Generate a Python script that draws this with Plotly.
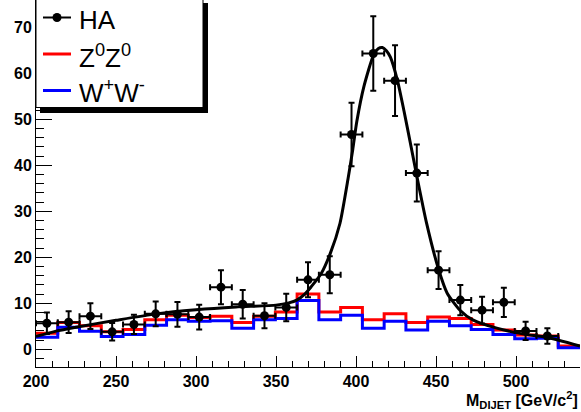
import plotly.graph_objects as go

# ---------------- data ----------------
bin_edges = [200.0, 213.6, 227.2, 240.8, 254.4, 268.0, 281.6, 295.2, 308.8, 322.4,
             336.0, 349.6, 363.2, 376.8, 390.4, 404.0, 417.6, 431.2, 444.8, 458.4,
             472.0, 485.6, 499.2, 512.8, 526.4, 540.0]

zz_values = [3.5, 5.8, 5.1, 3.8, 4.3, 6.4, 7.4, 6.9, 7.2, 5.8, 7.2, 8.1, 12.0,
             8.1, 9.1, 6.4, 7.7, 5.8, 7.0, 6.7, 5.4, 4.2, 3.1, 2.9, 0.7]

ww_values = [2.6, 4.8, 3.9, 2.8, 3.2, 5.2, 6.4, 6.1, 6.2, 4.6, 6.4, 6.7, 10.6,
             6.4, 7.4, 4.6, 6.1, 4.2, 6.1, 5.1, 4.3, 3.2, 2.3, 2.4, 0.35]

ha_x = [206.8, 220.4, 234.0, 247.6, 261.2, 274.8, 288.4, 302.0, 315.6, 329.2,
        342.8, 356.4, 370.0, 383.6, 397.2, 410.8, 424.4, 438.0, 451.6, 465.2,
        478.8, 492.4, 506.0, 519.6]
ha_y = [5.65, 5.9, 7.2, 3.8, 5.4, 7.7, 7.6, 7.0, 13.5, 9.8,
        7.3, 9.1, 15.1, 16.2, 46.7, 64.3, 58.4, 38.3, 17.2, 10.7,
        8.5, 10.2, 4.0, 2.9]
ha_err = [2.35, 2.35, 2.8, 1.9, 2.1, 2.7, 2.7, 2.7, 3.7, 3.1,
          2.7, 3.0, 3.8, 4.0, 6.9, 8.1, 7.7, 6.2, 4.1, 3.3,
          2.9, 3.2, 2.0, 1.7]
ha_xerr = [6.8] * len(ha_x)

# fit curve
fit_x = [200, 212, 225, 250, 275, 300, 325, 350, 358, 363, 368, 372, 378, 384,
         390, 395, 398, 400.5, 405, 411, 414, 416.5, 419, 421.5, 426, 430, 434,
         438, 444, 451.6, 457, 465, 473, 488, 505, 519, 540]
fit_y = [2.8, 3.9, 4.8, 6.3, 7.7, 8.6, 9.2, 9.6, 10.1, 10.7, 12.0, 13.6, 16.3, 20.9,
         27.4, 37.0, 43.5, 49.5, 57.2, 64.0, 65.4, 65.6, 64.9, 63.5, 58.3, 51.8, 44.8,
         37.7, 27.6, 17.4, 12.2, 8.5, 6.4, 4.6, 3.3, 2.6, 0.7]

x_range = [200, 540]
y_range = [-3.85, 75.93]

FONT = "Liberation Sans, Arial, Helvetica, sans-serif"

fig = go.Figure()

# histograms as step lines
fig.add_trace(go.Scatter(x=bin_edges, y=zz_values + [zz_values[-1]], mode="lines",
                         line=dict(color="rgb(255,0,0)", width=3, shape="hv"),
                         showlegend=False, hoverinfo="skip"))
fig.add_trace(go.Scatter(x=bin_edges, y=ww_values + [ww_values[-1]], mode="lines",
                         line=dict(color="rgb(0,0,255)", width=3, shape="hv"),
                         showlegend=False, hoverinfo="skip"))

# data points
fig.add_trace(go.Scatter(x=ha_x, y=ha_y, mode="markers",
                         marker=dict(color="black", size=9, symbol="circle"),
                         error_y=dict(type="data", array=ha_err, color="black",
                                      thickness=2, width=3),
                         error_x=dict(type="data", array=ha_xerr, color="black",
                                      thickness=2, width=3),
                         showlegend=False))

# fit curve
fig.add_trace(go.Scatter(x=fit_x, y=fit_y, mode="lines",
                         line=dict(color="black", width=3, shape="spline", smoothing=0.6),
                         showlegend=False, hoverinfo="skip"))

tickfont = dict(family=FONT, size=16, color="black", weight="bold")

fig.update_layout(
    width=581, height=412,
    margin=dict(l=36, r=1, t=0, b=45),
    paper_bgcolor="white", plot_bgcolor="white",
    xaxis=dict(range=x_range, showline=True, linecolor="black", linewidth=1,
               ticks="inside", ticklen=11, tickwidth=1, tickcolor="black",
               tick0=200, dtick=50, tickfont=tickfont,
               minor=dict(ticks="inside", ticklen=6, dtick=10, tickcolor="black", tickwidth=1),
               showgrid=False, zeroline=False),
    yaxis=dict(range=y_range, showline=True, linecolor="black", linewidth=1,
               ticks="inside", ticklen=16, tickwidth=1, tickcolor="black",
               tick0=0, dtick=10, tickfont=tickfont,
               minor=dict(ticks="inside", ticklen=8, dtick=2, tickcolor="black", tickwidth=1),
               showgrid=False, zeroline=False),
    xaxis2=dict(range=x_range, overlaying="x", side="top", anchor="y",
                showline=False, ticks="inside", ticklen=8, tickcolor="black",
                tick0=200, dtick=50, showticklabels=False,
                minor=dict(ticks="inside", ticklen=4, dtick=10, tickcolor="black"),
                showgrid=False, zeroline=False),
    yaxis2=dict(range=y_range, overlaying="y", side="right", anchor="x",
                showline=True, linecolor="black", linewidth=1,
                ticks="inside", ticklen=26, tickcolor="black",
                tick0=0, dtick=10, showticklabels=False,
                minor=dict(ticks="inside", ticklen=13, dtick=2, tickcolor="black"),
                showgrid=False, zeroline=False),
)

# ---- legend box (drawn by hand, ROOT style with shadow) ----
W, H = 544.0, 367.0
def px(xp):
    return (xp - 36.0) / W
def py(yp):
    return (H - yp) / H

fig.add_shape(type="rect", xref="paper", yref="paper",
              x0=px(40), x1=px(208), y0=py(113), y1=py(3),
              fillcolor="black", line=dict(width=0), layer="above")
fig.add_shape(type="rect", xref="paper", yref="paper",
              x0=px(36), x1=px(203), y0=py(107.5), y1=py(-5),
              fillcolor="white", line=dict(color="black", width=1), layer="above")

# legend symbols
fig.add_shape(type="line", xref="paper", yref="paper",
              x0=px(43), x1=px(71), y0=py(17.5), y1=py(17.5),
              line=dict(color="black", width=2), layer="above")
fig.add_shape(type="circle", xref="paper", yref="paper",
              x0=px(52.5), x1=px(61.5), y0=py(22), y1=py(13),
              fillcolor="black", line=dict(color="black", width=0), layer="above")
fig.add_shape(type="line", xref="paper", yref="paper",
              x0=px(43), x1=px(71), y0=py(54), y1=py(54),
              line=dict(color="rgb(255,0,0)", width=3), layer="above")
fig.add_shape(type="line", xref="paper", yref="paper",
              x0=px(43), x1=px(71), y0=py(90.5), y1=py(90.5),
              line=dict(color="rgb(0,0,255)", width=3), layer="above")

leg_font = dict(family=FONT, size=26, color="black")
legend_labels = ["HA", "Z<sup>0</sup>Z<sup>0</sup>", "W<sup>+</sup>W<sup>-</sup>"]
legend_ypix = [20, 57, 91]
for lab, yy in zip(legend_labels, legend_ypix):
    fig.add_annotation(text=lab, xref="paper", yref="paper", x=px(77), y=py(yy),
                       xanchor="left", yanchor="middle", showarrow=False, font=leg_font)

# x-axis title
fig.add_annotation(text="<b>M<sub>DIJET</sub> [GeV/c<sup>2</sup>]</b>",
                   xref="paper", yref="paper", x=px(580), y=py(400),
                   xanchor="right", yanchor="middle", showarrow=False,
                   font=dict(family=FONT, size=16, color="black"))

fig.write_html("out.html", config={"displayModeBar": False},
               post_script="document.body.style.margin='0';document.body.style.padding='0';")
